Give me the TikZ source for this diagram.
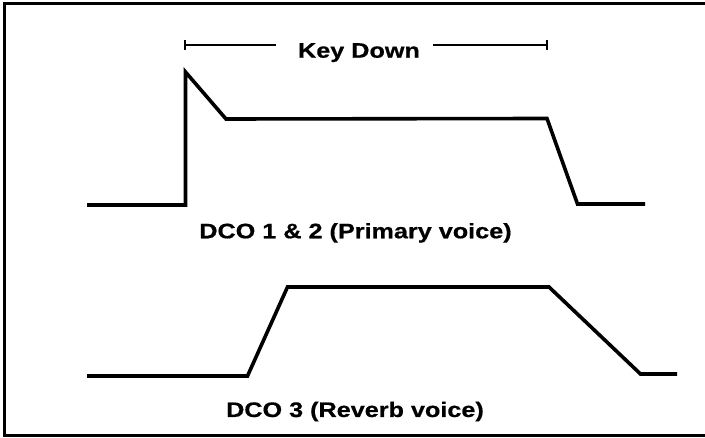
\documentclass[tikz,border=0pt]{standalone}
\usepackage{fontspec}
\setmainfont{Liberation Sans}[FakeStretch=1.2,BoldFeatures={FakeBold=0.6}]
\begin{document}
\begin{tikzpicture}[x=1pt,y=-1pt,
  wave/.style={line width=3.6pt,line join=miter},
  frameline/.style={line width=3pt},
  bar/.style={line width=2.6pt},
  lbl/.style={font=\fontsize{21}{25}\selectfont\bfseries,inner sep=0pt,anchor=base}]
\useasboundingbox (0,0) rectangle (705,438);
% frame (open on the right)
\draw[frameline] (705,4) -- (4,4) -- (4,436) -- (705,436);
% Key Down bar
\coordinate (kl) at (185,45);
\coordinate (kr) at (547,45);
\node[lbl] (key) at (359,57.7) {Key Down};
\draw[bar] (kl) -- (276,45);
\draw[bar] (433,45) -- (kr);
\draw[bar] ([yshift=-5pt]kl) -- ([yshift=5pt]kl);
\draw[bar] ([yshift=-5pt]kr) -- ([yshift=5pt]kr);
% DCO 1 & 2 waveform
\draw[wave] (87,205) -- (185.5,205) -- (185.5,72) -- (226,119) -- (547,118.5) -- (577.5,204) -- (645,204);
\node[lbl] (l1) at (355.5,238.3) {DCO 1 \& 2 (Primary voice)};
% DCO 3 waveform
\draw[wave] (87,376) -- (247.5,376) -- (287.5,287) -- (549,287) -- (640.5,374) -- (677,374);
\node[lbl] (l2) at (355,417) {DCO 3 (Reverb voice)};
\end{tikzpicture}
\end{document}
